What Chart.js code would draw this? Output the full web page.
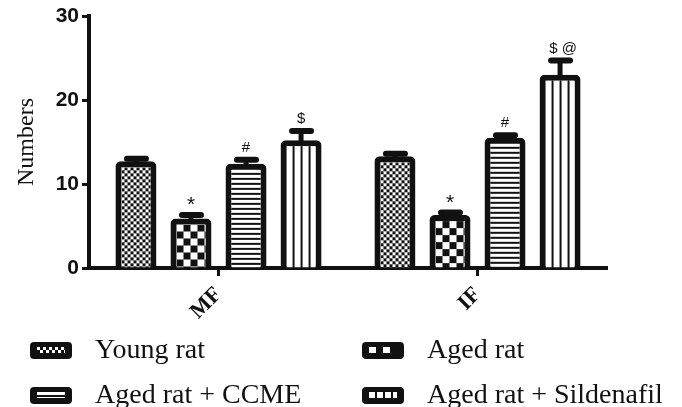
<!DOCTYPE html>
<html>
<head>
<meta charset="utf-8">
<script src="https://cdn.jsdelivr.net/npm/chart.js@4"></script>
<style>
html,body{margin:0;padding:0;background:#fff;}
#wrap{width:682px;height:407px;position:relative;}
</style>
</head>
<body>
<div id="wrap"><canvas id="c" width="682" height="407"></canvas></div>
<script>
// ---- data ----
const categories = ["MF", "IF"];
const seriesNames = ["Young rat", "Aged rat", "Aged rat + CCME", "Aged rat + Sildenafil"];
const youngRat = [12.7, 13.3];
const agedRat = [5.9, 6.3];
const agedCCME = [12.4, 15.5];
const agedSildenafil = [15.2, 23.0];
const youngErr = [0.3, 0.3];
const agedErr = [0.4, 0.3];
const ccmeErr = [0.5, 0.3];
const sildErr = [1.1, 1.7];
const youngMarks = ["", ""];
const agedMarks = ["*", "*"];
const ccmeMarks = ["#", "#"];
const sildMarks = ["$", "$ @"];
const yTicks = [0, 10, 20, 30];

const values = [youngRat, agedRat, agedCCME, agedSildenafil];
const errors = [youngErr, agedErr, ccmeErr, sildErr];
const marks = [youngMarks, agedMarks, ccmeMarks, sildMarks];

const BW = 6;

// ---- patterns ----
function makeTile(kind) {
  const t = document.createElement('canvas');
  const g = t.getContext('2d');
  if (kind === 0) { // fine checker
    t.width = 6; t.height = 6;
    g.fillStyle = '#111'; g.fillRect(0,0,6,6);
    g.fillStyle = '#fff'; g.fillRect(0,0,3,3); g.fillRect(3,3,3,3);
  } else if (kind === 1) { // coarse checker
    t.width = 14; t.height = 14;
    g.fillStyle = '#111'; g.fillRect(0,0,14,14);
    g.fillStyle = '#fff'; g.fillRect(0,0,7,7); g.fillRect(7,7,7,7);
  } else if (kind === 2) { // horizontal stripes
    t.width = 4; t.height = 5;
    g.fillStyle = '#fff'; g.fillRect(0,0,4,5);
    g.fillStyle = '#111'; g.fillRect(0,3,4,2);
  } else { // vertical stripes
    t.width = 8; t.height = 4;
    g.fillStyle = '#fff'; g.fillRect(0,0,8,4);
    g.fillStyle = '#111'; g.fillRect(6,0,2,4);
  }
  return t;
}
const tmpCtx = document.createElement('canvas').getContext('2d');
const tiles = [0,1,2,3].map(makeTile);
const patterns = tiles.map(t => categories.map(() => tmpCtx.createPattern(t, 'repeat')));
const legendPatterns = tiles.map(t => tmpCtx.createPattern(t, 'repeat'));

const alignPatterns = {
  id: 'alignPatterns',
  beforeDatasetsDraw(chart) {
    chart.data.datasets.forEach((ds, i) => {
      const meta = chart.getDatasetMeta(i);
      meta.data.forEach((el, j) => {
        const left = el.x - el.width / 2 + BW;
        const p = patterns[i][j];
        if (p.setTransform) p.setTransform(new DOMMatrix().translate(left, el.y + BW));
      });
    });
  }
};

const errorBars = {
  id: 'errorBars',
  afterDatasetsDraw(chart) {
    const ctx = chart.ctx;
    const ys = chart.scales.y;
    ctx.save();
    chart.data.datasets.forEach((ds, i) => {
      const meta = chart.getDatasetMeta(i);
      meta.data.forEach((el, j) => {
        const v = values[i][j], e = errors[i][j];
        const top = ys.getPixelForValue(v + e);
        ctx.strokeStyle = '#111';
        ctx.lineWidth = 5;
        ctx.lineCap = 'butt';
        ctx.beginPath(); ctx.moveTo(el.x, el.y + 2); ctx.lineTo(el.x, top); ctx.stroke();
        ctx.lineWidth = 6;
        ctx.lineCap = 'round';
        ctx.beginPath(); ctx.moveTo(el.x - 9, top); ctx.lineTo(el.x + 10, top); ctx.stroke();
        const m = marks[i][j];
        if (m) {
          ctx.fillStyle = '#111';
          ctx.textAlign = 'center';
          ctx.textBaseline = 'alphabetic';
          const capTop = top - 3;
          if (m === '*') {
            ctx.font = '21px "Liberation Sans", Arial, sans-serif';
            ctx.fillText(m, el.x, capTop - 1);
          } else {
            ctx.font = '15px "Liberation Sans", Arial, sans-serif';
            ctx.fillText(m, el.x + (m.length > 1 ? 3 : 0), capTop - 5);
          }
        }
      });
    });
    ctx.restore();
  }
};

function roundRect(ctx, x, y, w, h, r) {
  ctx.beginPath();
  ctx.moveTo(x + r, y);
  ctx.lineTo(x + w - r, y); ctx.quadraticCurveTo(x + w, y, x + w, y + r);
  ctx.lineTo(x + w, y + h - r); ctx.quadraticCurveTo(x + w, y + h, x + w - r, y + h);
  ctx.lineTo(x + r, y + h); ctx.quadraticCurveTo(x, y + h, x, y + h - r);
  ctx.lineTo(x, y + r); ctx.quadraticCurveTo(x, y, x + r, y);
  ctx.closePath();
}

const customLegend = {
  id: 'customLegend',
  afterDraw(chart) {
    const ctx = chart.ctx;
    const pos = [[30, 350], [362, 350], [30, 395], [362, 395]];
    ctx.save();
    seriesNames.forEach((name, i) => {
      const [x, y] = pos[i];
      ctx.fillStyle = '#111';
      roundRect(ctx, x, y - 8, 42, 17, 4);
      ctx.fill();
      const p = legendPatterns[i];
      if (p.setTransform) p.setTransform(new DOMMatrix().translate(x + 7, y - 3));
      ctx.fillStyle = p;
      ctx.fillRect(x + 7, y - 3, 28, 6);
      ctx.fillStyle = '#111';
      ctx.font = '28px "Liberation Serif", "Times New Roman", serif';
      ctx.textAlign = 'left';
      ctx.textBaseline = 'middle';
      ctx.fillText(name, x + 65, y + 1);
    });
    ctx.restore();
  }
};

const datasets = seriesNames.map((name, i) => ({
  label: name,
  data: values[i],
  backgroundColor: patterns[i],
  borderColor: '#111',
  borderWidth: BW,
  borderSkipped: 'bottom',
  borderRadius: {topLeft: 5, topRight: 5, bottomLeft: 0, bottomRight: 0},
  categoryPercentage: 0.85,
  barPercentage: 0.745
}));

new Chart(document.getElementById('c'), {
  type: 'bar',
  data: { labels: categories, datasets },
  options: {
    responsive: false,
    animation: false,
    layout: { padding: { top: 16, right: 75, left: 0, bottom: 0 } },
    plugins: { legend: { display: false }, tooltip: { enabled: false } },
    scales: {
      x: {
        grid: { display: true, offset: false, drawOnChartArea: false, drawTicks: true, tickLength: 8, tickWidth: 3, tickColor: '#111' },
        border: { display: true, color: '#111', width: 4 },
        ticks: {
          color: '#111', minRotation: 45, maxRotation: 45, padding: 6,
          font: { family: '"Liberation Serif", "Times New Roman", serif', size: 22, weight: 'bold' }
        },
        afterFit(scale) { scale.height = 139; }
      },
      y: {
        min: 0, max: 30,
        afterBuildTicks(scale) { scale.ticks = yTicks.map(v => ({ value: v })); },
        grid: { display: true, drawOnChartArea: false, drawTicks: true, tickLength: 7, tickWidth: 3, tickColor: '#111' },
        border: { display: true, color: '#111', width: 4 },
        ticks: {
          color: '#111', padding: 3,
          font: { family: '"Liberation Sans", Arial, sans-serif', size: 21, weight: 'bold' }
        },
        title: {
          display: true, text: 'Numbers', color: '#111',
          font: { family: '"Liberation Serif", "Times New Roman", serif', size: 24 },
          padding: { top: 12, bottom: 4 }
        },
        afterFit(scale) { scale.width = 89; }
      }
    }
  },
  plugins: [alignPatterns, errorBars, customLegend]
});
</script>
</body>
</html>
